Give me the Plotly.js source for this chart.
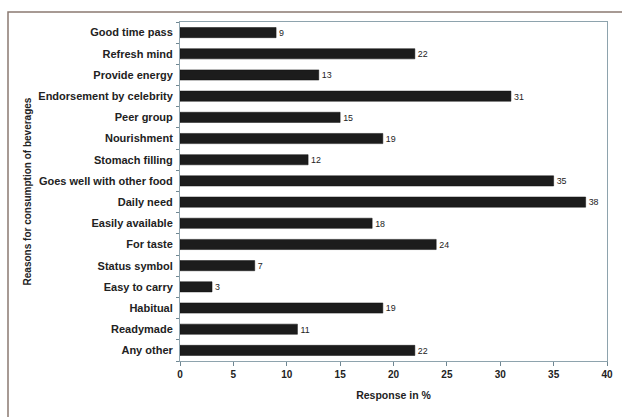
<!DOCTYPE html>
<html>
<head>
<meta charset="utf-8">
<script src="https://cdn.plot.ly/plotly-3.0.1.min.js"></script>
<style>
  html, body { margin: 0; padding: 0; background: #ffffff; }
  #chart { width: 622px; height: 417px; }
</style>
</head>
<body>
<div id="chart"></div>
<script>
// Reasons for consumption of beverages, listed top to bottom
const reasons = [
  "Good time pass", "Refresh mind", "Provide energy", "Endorsement by celebrity",
  "Peer group", "Nourishment", "Stomach filling", "Goes well with other food",
  "Daily need", "Easily available", "For taste", "Status symbol",
  "Easy to carry", "Habitual", "Readymade", "Any other"
];
// Share of respondents (%)
const responses = [9, 22, 13, 31, 15, 19, 12, 35, 38, 18, 24, 7, 3, 19, 11, 22];
const xTicks = [0, 5, 10, 15, 20, 25, 30, 35, 40];

const font = "Liberation Sans, Arial, sans-serif";

const trace = {
  type: "bar",
  orientation: "h",
  y: reasons,
  x: responses,
  text: responses.map(String),
  textposition: "outside",
  cliponaxis: false,
  textfont: { family: font, size: 10.5, color: "#222222" },
  marker: { color: "#1c1c1c", line: { color: "#111111", width: 0.5 } },
  hoverinfo: "skip"
};

const layout = {
  width: 622,
  height: 417,
  margin: { l: 180, r: 15, t: 22, b: 56 },
  paper_bgcolor: "#ffffff",
  plot_bgcolor: "#ffffff",
  showlegend: false,
  bargap: 0.52,
  font: { family: font, size: 10, color: "#222222" },
  xaxis: {
    range: [0, 40],
    tickvals: xTicks,
    ticks: "outside",
    ticklen: 4,
    tickcolor: "#6f8792",
    showgrid: false,
    zeroline: false,
    showline: true,
    linecolor: "#8ea3ad",
    linewidth: 1,
    mirror: true,
    tickfont: { family: font, size: 10, color: "#222222", weight: "bold" },
    title: { text: "Response in %", font: { family: font, size: 10.5, color: "#222222", weight: "bold" }, standoff: 12 }
  },
  yaxis: {
    type: "category",
    categoryorder: "array",
    categoryarray: reasons.slice().reverse(),
    autorange: true,
    ticks: "outside",
    tickson: "boundaries",
    ticklen: 3,
    tickcolor: "#6f8792",
    ticklabelstandoff: 4,
    showgrid: false,
    zeroline: false,
    showline: true,
    linecolor: "#8ea3ad",
    linewidth: 1,
    mirror: true,
    tickfont: { family: font, size: 11, color: "#222222", weight: "bold" },
    title: { text: "Reasons for consumption of beverages", font: { family: font, size: 10, color: "#222222", weight: "bold" }, standoff: 4 },
    automargin: false
  },
  shapes: [
    {
      type: "rect", xref: "paper", yref: "paper",
      x0: -172 / 427, x1: 1.2, y0: -0.3, y1: 1 + 10 / 339,
      line: { color: "#8a7a72", width: 1.5 }, fillcolor: "rgba(0,0,0,0)",
      layer: "below"
    }
  ]
};

Plotly.newPlot("chart", [trace], layout, { displayModeBar: false, staticPlot: true });
</script>
</body>
</html>
